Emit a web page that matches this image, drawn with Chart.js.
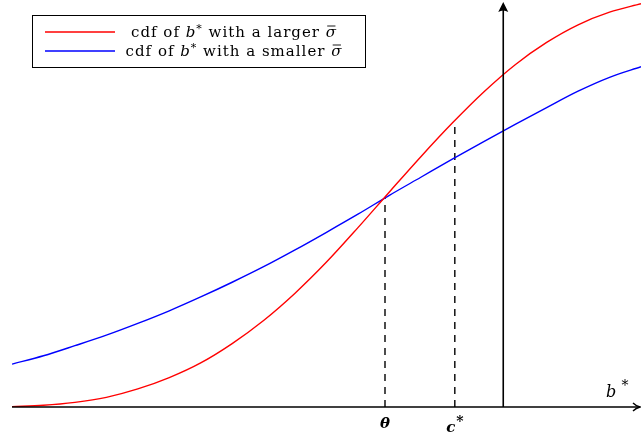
<!DOCTYPE html>
<html>
<head>
<meta charset="utf-8">
<script src="https://cdn.jsdelivr.net/npm/chart.js@4/dist/chart.umd.min.js"></script>
<style>
  html, body { margin: 0; padding: 0; background: #fff; }
  canvas { display: block; }
</style>
</head>
<body>
<canvas id="cdf-chart" width="641" height="439"></canvas>
<script>
// b* grid and the two cdf curves read along it
const bValues = [0, 0.5, 1, 1.5, 2, 2.5, 3, 3.5, 4, 4.5, 5, 5.5, 6, 6.5, 7, 7.5, 8, 8.5, 9, 9.5, 10];
const largerSigmaCdf = [0.001, 0.004, 0.011, 0.023, 0.043, 0.070, 0.105, 0.151, 0.206, 0.271, 0.345, 0.427, 0.512, 0.596, 0.676, 0.750, 0.815, 0.868, 0.910, 0.940, 0.960];
const smallerSigmaCdf = [0.102, 0.122, 0.146, 0.171, 0.199, 0.229, 0.262, 0.297, 0.334, 0.374, 0.416, 0.459, 0.504, 0.547, 0.590, 0.632, 0.673, 0.713, 0.752, 0.785, 0.810];

// marked points on the b* axis
const thetaX = 5.93;
const thetaY = 0.5;
const cStarX = 7.04;
const cStarY = 0.672;
const yAxisX = 7.81;

const seriesLabels = ['larger', 'smaller'];

function toPoints(xs, ys) {
    return xs.map((x, i) => ({ x: x, y: ys[i] }));
}

// axes with arrowheads, tick labels and the boxed legend
const decorPlugin = {
    id: 'decor',
    afterDatasetsDraw(chart) {
        const ctx = chart.ctx;
        const xs = chart.scales.x;
        const ys = chart.scales.y;
        const y0 = ys.getPixelForValue(0);
        const xLeft = xs.getPixelForValue(0);
        const xAxisPx = xs.getPixelForValue(yAxisX);

        ctx.save();
        ctx.strokeStyle = '#000';
        ctx.fillStyle = '#000';
        ctx.lineWidth = 1.4;

        // horizontal axis
        ctx.beginPath();
        ctx.moveTo(xLeft, y0);
        ctx.lineTo(640, y0);
        ctx.stroke();
        ctx.beginPath();
        ctx.moveTo(633, y0 - 4);
        ctx.quadraticCurveTo(636, y0 - 1, 640, y0);
        ctx.quadraticCurveTo(636, y0 + 1, 633, y0 + 4);
        ctx.stroke();

        // vertical axis
        ctx.lineWidth = 1.6;
        ctx.beginPath();
        ctx.moveTo(xAxisPx, y0);
        ctx.lineTo(xAxisPx, 6);
        ctx.stroke();
        ctx.beginPath();
        ctx.moveTo(xAxisPx, 2);
        ctx.lineTo(xAxisPx + 5, 12);
        ctx.quadraticCurveTo(xAxisPx, 9, xAxisPx - 5, 12);
        ctx.closePath();
        ctx.fill();

        // axis labels
        ctx.textBaseline = 'alphabetic';
        ctx.textAlign = 'center';
        ctx.font = 'italic bold 15px "DejaVu Serif"';
        ctx.fillText('θ', xs.getPixelForValue(thetaX), 428);
        ctx.fillText('c', xs.getPixelForValue(cStarX) - 4, 432);
        ctx.font = 'bold 14px "DejaVu Serif"';
        ctx.fillText('*', xs.getPixelForValue(cStarX) + 5, 426);
        ctx.font = 'italic 16px "DejaVu Serif"';
        ctx.fillText('b', 611, 397);
        ctx.font = '14px "DejaVu Serif"';
        ctx.fillText('*', 625, 390);

        // legend box
        ctx.lineWidth = 1;
        ctx.strokeRect(32.5, 15.5, 333, 52);
        const rows = [
            { color: chart.data.datasets[0].borderColor, y: 32, word: seriesLabels[0] },
            { color: chart.data.datasets[1].borderColor, y: 51, word: seriesLabels[1] }
        ];
        ctx.letterSpacing = '1px';
        rows.forEach(row => {
            ctx.strokeStyle = row.color;
            ctx.lineWidth = 1.3;
            ctx.beginPath();
            ctx.moveTo(45, row.y);
            ctx.lineTo(115, row.y);
            ctx.stroke();

            const parts = [
                { t: 'cdf of ', f: '15px "DejaVu Serif"' },
                { t: 'b', f: 'italic 15px "DejaVu Serif"' },
                { t: '*', f: '11px "DejaVu Serif"', up: 5 },
                { t: ' with a ' + row.word + ' ', f: '15px "DejaVu Serif"' },
                { t: 'σ', f: 'italic 15px "DejaVu Serif"', bar: true }
            ];
            let total = 0;
            parts.forEach(p => { ctx.font = p.f; p.w = ctx.measureText(p.t).width; total += p.w; });
            let x = 234 - total / 2;
            ctx.fillStyle = '#000';
            ctx.strokeStyle = '#000';
            ctx.textAlign = 'left';
            parts.forEach(p => {
                ctx.font = p.f;
                ctx.fillText(p.t, x, row.y + 5 - (p.up || 0));
                if (p.bar) {
                    ctx.lineWidth = 0.9;
                    ctx.beginPath();
                    ctx.moveTo(x + 1.5, row.y - 6);
                    ctx.lineTo(x + p.w - 1.5, row.y - 6);
                    ctx.stroke();
                }
                x += p.w;
            });
        });
        ctx.restore();
    }
};

const dashStyle = {
    borderColor: '#000',
    borderWidth: 1.4,
    borderDash: [7, 6],
    pointRadius: 0,
    tension: 0
};

const config = {
    type: 'line',
    data: {
        datasets: [
            {
                label: 'cdf of b* with a larger σ̄',
                data: toPoints(bValues, largerSigmaCdf),
                borderColor: '#ff0000',
                borderWidth: 1.4,
                pointRadius: 0,
                cubicInterpolationMode: 'monotone'
            },
            {
                label: 'cdf of b* with a smaller σ̄',
                data: toPoints(bValues, smallerSigmaCdf),
                borderColor: '#0000ff',
                borderWidth: 1.4,
                pointRadius: 0,
                cubicInterpolationMode: 'monotone'
            },
            Object.assign({ label: 'theta', data: [{ x: thetaX, y: 0 }, { x: thetaX, y: thetaY }] }, dashStyle),
            Object.assign({ label: 'cstar', data: [{ x: cStarX, y: 0 }, { x: cStarX, y: cStarY }] }, dashStyle)
        ]
    },
    options: {
        responsive: false,
        animation: false,
        layout: {
            padding: { top: 0, right: 0, bottom: 32, left: 12 }
        },
        plugins: {
            legend: { display: false },
            tooltip: { enabled: false }
        },
        scales: {
            x: { type: 'linear', min: 0, max: 10, display: false },
            y: { type: 'linear', min: 0, max: 0.969, display: false }
        }
    },
    plugins: [decorPlugin]
};

new Chart(document.getElementById('cdf-chart'), config);
</script>
</body>
</html>
